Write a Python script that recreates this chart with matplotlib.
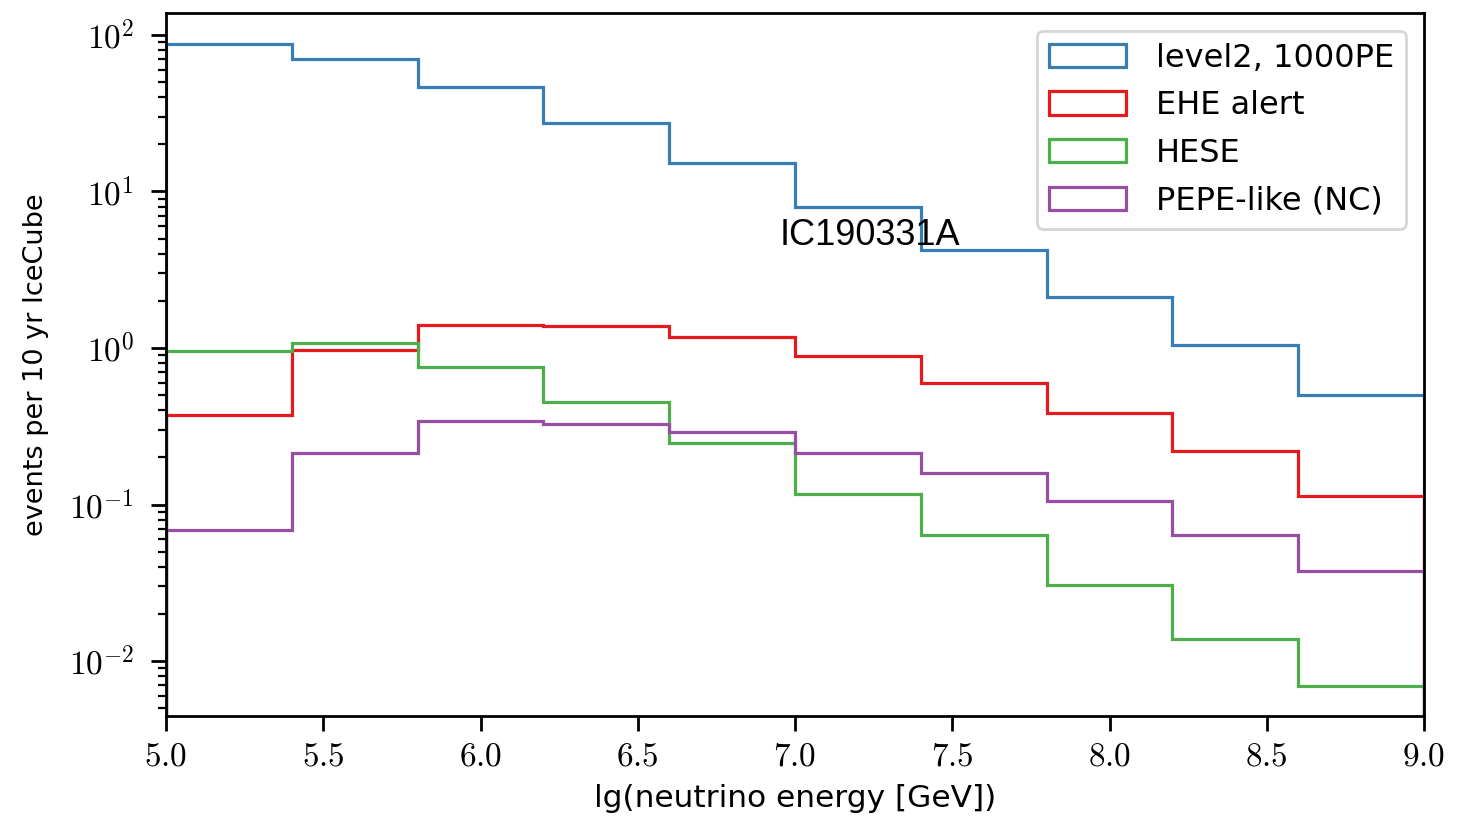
import numpy as np
import matplotlib
matplotlib.use("Agg")
import matplotlib.pyplot as plt
from matplotlib.ticker import FuncFormatter

bin_edges = [5.0, 5.4, 5.8, 6.2, 6.6, 7.0, 7.4, 7.8, 8.2, 8.6, 9.0]
level2 = [87.6, 70.3, 46.5, 27.4, 15.2, 7.96, 4.23, 2.12, 1.04, 0.50]
ehe = [0.373, 0.97, 1.41, 1.38, 1.17, 0.889, 0.595, 0.383, 0.221, 0.114]
hese = [0.95, 1.07, 0.76, 0.45, 0.247, 0.116, 0.0641, 0.0306, 0.0138, 0.00695]
pepe = [0.0687, 0.214, 0.340, 0.327, 0.289, 0.214, 0.160, 0.106, 0.0638, 0.0377]
labels = ["level2, 1000PE", "EHE alert", "HESE", "PEPE-like (NC)"]
colors = ["#377eb8", "#e41a1c", "#4daf4a", "#984ea3"]
xticks = [5.0, 5.5, 6.0, 6.5, 7.0, 7.5, 8.0, 8.5, 9.0]

plt.rcParams['mathtext.fontset'] = 'cm'
plt.rcParams['font.family'] = ['DejaVu Sans']
plt.rcParams['axes.unicode_minus'] = False

fig = plt.figure(figsize=(14.57, 8.17), dpi=100)
ax = fig.add_axes([166/1457, 1-716/817, (1424-166)/1457, (716-13)/817])

centers = [(a + b) / 2 for a, b in zip(bin_edges[:-1], bin_edges[1:])]
for vals, lab, c in zip([level2, ehe, hese, pepe], labels, colors):
    ax.hist(centers, bins=bin_edges, weights=vals, histtype='step', color=c,
            linewidth=2.3, label=lab)

ax.set_yscale('log')
ax.set_xlim(5.0, 9.0)
ax.set_ylim(10**-2.351, 10**2.14)
ax.set_xticks(xticks)
ax.xaxis.set_major_formatter(FuncFormatter(lambda v, p: f"${v:.1f}$"))
ax.yaxis.set_major_formatter(FuncFormatter(lambda v, p: "$10^{%d}$" % round(np.log10(v))))
ax.tick_params(axis='both', which='major', labelsize=24, length=11, width=2, direction='out')
ax.tick_params(axis='both', which='minor', length=6, width=1.6, direction='out')
ax.tick_params(axis='x', pad=6)
ax.tick_params(axis='y', pad=12)
for s in ax.spines.values():
    s.set_linewidth(2)

ax.set_xlabel("lg(neutrino energy [GeV])", fontsize=22.5, labelpad=8)
ax.set_ylabel("events per 10 yr IceCube", fontsize=19.5, labelpad=14)

leg = ax.legend(loc='upper right', fontsize=23, frameon=True, fancybox=True,
                borderpad=0.38, handlelength=2.4, handleheight=0.75,
                labelspacing=0.52, handletextpad=0.95, borderaxespad=0.55)
leg.get_frame().set_linewidth(2)
leg.get_frame().set_edgecolor('#cccccc')

ax.text(6.952, 10**0.658, "IC190331A", fontsize=26, family='Liberation Sans',
        ha='left', va='baseline')

fig.savefig("out.png", dpi=100)
